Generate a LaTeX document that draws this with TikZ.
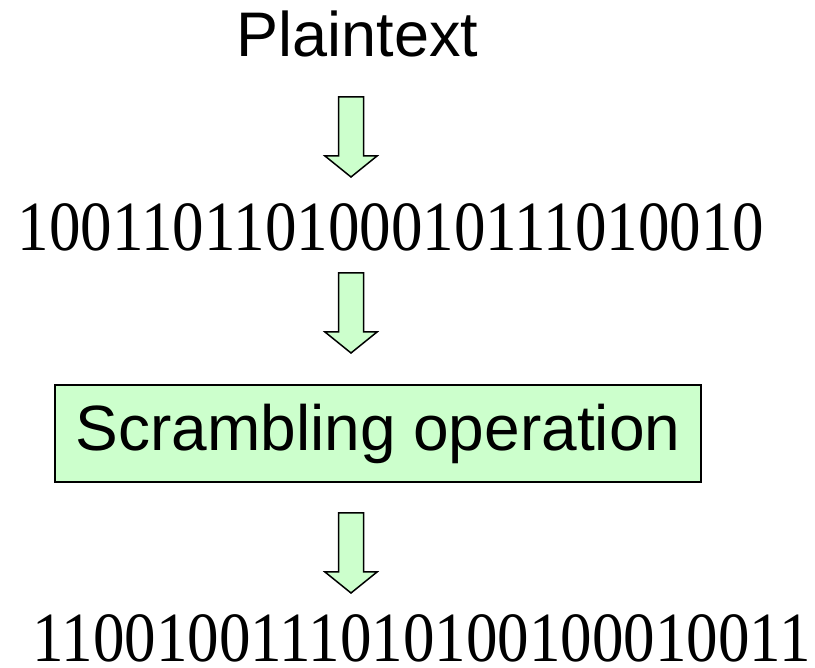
\documentclass[tikz,border=0pt]{standalone}
\usepackage{fontspec}
\usepackage{graphicx}
\newfontfamily\arialf{Liberation Sans}
\newfontfamily\timesf{Liberation Serif}
\definecolor{lightgreen}{HTML}{CCFFCC}
\newcommand{\tallbits}[1]{\scalebox{1}[1.12]{#1}}
\begin{document}
\begin{tikzpicture}[x=1pt,y=-1pt,
  sanslabel/.style={font=\arialf\fontsize{63}{70}\selectfont, inner sep=0pt, anchor=base},
  bitslabel/.style={font=\timesf\fontsize{63}{70}\selectfont, inner sep=0pt, anchor=base},
  opbox/.style={draw=black, line width=1.5pt, fill=lightgreen, inner sep=0pt,
     minimum width=646pt, minimum height=97pt,
     font=\arialf\fontsize{64}{70}\selectfont},
  blockarrow/.style={draw=black, line width=1.5pt, fill=lightgreen, line join=miter}
]
\useasboundingbox (0,0) rectangle (815,668);
\fill[white] (0,0) rectangle (815,668);

\node[sanslabel] (plain) at (357.5,57) {Plaintext};
\node[bitslabel] (bits1) at (391,251) {\tallbits{100110110100010111010010}};
\node[opbox] (op) at (378,433.5) {Scrambling operation};
\node[bitslabel] (bits2) at (421.5,661) {\tallbits{1100100111010100100010011}};

% block arrows: top-centre coordinates
\coordinate (a1) at (351,97);
\coordinate (a2) at (351,273);
\coordinate (a3) at (351,513);
\foreach \a in {a1,a2,a3}{
  \draw[blockarrow] ([xshift=-12.5pt]\a) -- ([xshift=12.5pt]\a)
     -- ([xshift=12.5pt,yshift=-59pt]\a) -- ([xshift=26pt,yshift=-59pt]\a)
     -- ([yshift=-80pt]\a) -- ([xshift=-26pt,yshift=-59pt]\a)
     -- ([xshift=-12.5pt,yshift=-59pt]\a) -- cycle;
}
\end{tikzpicture}
\end{document}
